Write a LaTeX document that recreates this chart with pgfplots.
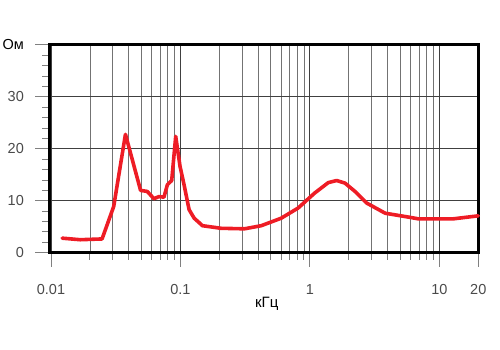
\documentclass[border=0pt]{standalone}
\usepackage{pgfplots}
\pgfplotsset{compat=1.18}
\usepackage{fontspec}
\setmainfont{Liberation Sans}
\definecolor{curve}{HTML}{EE1C25}
\definecolor{lbl}{HTML}{4A4A4A}
\begin{document}
\begin{tikzpicture}[x=1pt,y=1pt]
\path[use as bounding box] (0,0) rectangle (500,350);
\begin{axis}[
  at={(49.3pt,97.3pt)}, anchor=south west,
  scale only axis, width=429pt, height=207.7pt,
  xmode=log, xmin=0.0097, xmax=20, ymin=0, ymax=40,
  axis line style={line width=3pt, black},
  tick pos=left, tick align=outside,
  xtick={0.01,0.1,1,10,20},
  xticklabels={0.01,0.1,1,10,20},
  minor xtick={0.02,0.03,0.04,0.05,0.06,0.07,0.08,0.09,0.2,0.3,0.4,0.5,0.6,0.7,0.8,0.9,2,3,4,5,6,7,8,9},
  ytick={0,10,20,30,40},
  yticklabels={0,10,20,30,\textcolor{black}{Ом}},
  minor ytick={2,4,6,8,12,14,16,18,22,24,26,28,32,34,36,38},
  major tick length=14pt, minor tick length=7pt,
  every tick/.style={black!50, line width=1pt},
  xmajorgrids, xminorgrids, ymajorgrids,
  major grid style={black!75, line width=0.9pt},
  minor grid style={black!55, line width=0.9pt},
  every tick label/.append style={font=\fontsize{14.5}{17}\selectfont, text=lbl},
  xticklabel style={yshift=-14pt},
  yticklabel style={xshift=-8pt},
  /pgf/number format/assume math mode=true,
  xlabel={кГц},
  xlabel style={at={(axis description cs:0.5,0)}, anchor=base, yshift=-55.3pt, xshift=3pt, font=\fontsize{15}{18}\selectfont, text=black},
  clip=false,
]
\addplot[curve, line width=3.6pt, line join=round, line cap=round] coordinates {
(0.0122,2.8) (0.0168,2.5) (0.0248,2.65) (0.0305,8.9) (0.0376,22.8)
(0.0492,12.0) (0.0554,11.8) (0.0624,10.4) (0.0682,10.8) (0.0746,10.7)
(0.0793,13.1) (0.0856,13.9) (0.0919,22.4) (0.0993,16.6) (0.1066,13.1)
(0.1166,8.3) (0.1276,6.65) (0.148,5.2) (0.2056,4.7) (0.312,4.6)
(0.421,5.2) (0.601,6.65) (0.811,8.6) (1.09,11.5) (1.387,13.5)
(1.61,13.9) (1.867,13.4) (2.23,11.8) (2.75,9.55) (3.82,7.6)
(5.8,6.85) (6.95,6.5) (12.6,6.5) (20,7.1)
};
\end{axis}
\end{tikzpicture}
\end{document}
